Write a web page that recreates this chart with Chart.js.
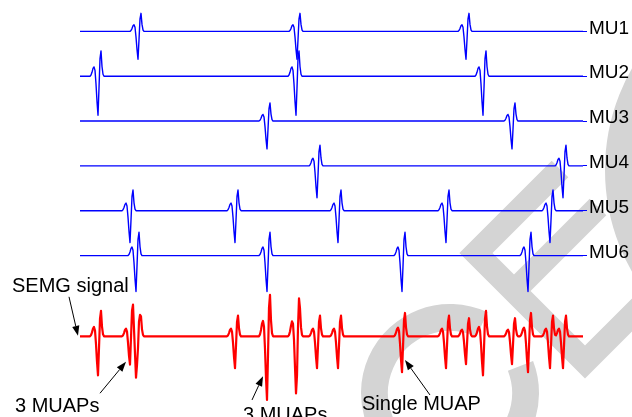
<!DOCTYPE html>
<html>
<head>
<meta charset="utf-8">
<script src="https://cdn.jsdelivr.net/npm/chart.js@4.4.0/dist/chart.umd.min.js"></script>
<style>
  html, body { margin: 0; padding: 0; background: #fff; }
  #wrap { width: 632px; height: 417px; position: relative; }
</style>
</head>
<body>
<div id="wrap"><canvas id="muapChart"></canvas></div>
<script>
// firing instants of each motor unit (sample index of the negative peak)
const mu1Firings = [58, 217, 386];
const mu2Firings = [18, 216, 403];
const mu3Firings = [187, 432];
const mu4Firings = [237, 483];
const mu5Firings = [50, 155, 258, 366, 470];
const mu6Firings = [56, 187, 322, 448];

// negative peak amplitude of each unit's MUAP
const muAmplitudes = [0.62, 0.87, 0.62, 0.71, 0.71, 0.80];

// normalised MUAP waveform, samples -8 .. +6 around the negative peak
const muapShape = [0, 0.03, 0.1, 0.2, 0.24, 0.15, -0.2, -0.65, -1, -0.3, 0.45, 0.65, 0.25, 0.05, 0];
const muapOnset = -8;

const muLabels = ['MU1', 'MU2', 'MU3', 'MU4', 'MU5', 'MU6'];
const muBaselines = [6, 5, 4, 3, 2, 1];
const semgBaseline = -0.8;
const nSamples = 504;

// arrows + captions (data coords)
const notes = [
  { text: 'SEMG signal', at: [-68, 0.19],   from: [-11, 0.08],  to: [-2, -0.79] },
  { text: '3 MUAPs',     at: [-65, -2.49],  from: [20, -2.07],  to: [46, -1.37] },
  { text: '3 MUAPs',     at: [163, -2.69],  from: [172, -2.22], to: [183, -1.69] },
  { text: 'Single MUAP', at: [282, -2.44],  from: [350, -2.11], to: [325, -1.33] }
];

const FONT = '20px "Liberation Sans", Arial, sans-serif';

// spike train of one unit: MUAP placed at every firing
function buildTrain(firings, amp) {
    const train = new Array(nSamples).fill(0);
    firings.forEach(t => {
        muapShape.forEach((v, k) => {
            const i = t + muapOnset + k;
            if (i >= 0 && i < nSamples) train[i] += v * amp;
        });
    });
    return train;
}

const allFirings = [mu1Firings, mu2Firings, mu3Firings, mu4Firings, mu5Firings, mu6Firings];
const trains = allFirings.map((f, i) => buildTrain(f, muAmplitudes[i]));

// surface EMG = sum of all the trains
const semg = new Array(nSamples).fill(0);
trains.forEach(tr => tr.forEach((v, i) => { semg[i] += v; }));

const datasets = trains.map((tr, m) => ({
    label: muLabels[m],
    data: tr.map((v, i) => ({ x: i, y: muBaselines[m] + v })),
    borderColor: '#0000ff',
    borderWidth: 1.4,
    pointRadius: 0,
    tension: 0,
    borderJoinStyle: 'round'
}));
datasets.push({
    label: 'SEMG',
    data: semg.map((v, i) => ({ x: i, y: semgBaseline + v })),
    borderColor: '#ff0000',
    borderWidth: 2.2,
    pointRadius: 0,
    tension: 0,
    borderJoinStyle: 'round'
});

// grey stamp behind everything
function drawWatermark(ctx) {
    const d2r = Math.PI / 180;
    ctx.save();
    ctx.strokeStyle = '#d4d4d4';
    ctx.lineCap = 'butt';
    ctx.lineJoin = 'miter';

    ctx.lineWidth = 27;
    ctx.beginPath();
    ctx.arc(450, 393, 75.5, -21 * d2r, -65 * d2r, false);
    ctx.stroke();

    ctx.lineWidth = 30;
    ctx.beginPath();
    ctx.arc(810, 170, 190, 0, 2 * Math.PI);
    ctx.stroke();

    ctx.lineWidth = 23.5;
    ctx.beginPath();
    ctx.moveTo(560, 169);
    ctx.lineTo(476, 253);
    ctx.lineTo(585, 362);
    ctx.lineTo(680, 267);
    ctx.stroke();
    ctx.beginPath();
    ctx.moveTo(514, 291);
    ctx.lineTo(598, 207);
    ctx.stroke();
    ctx.restore();
}

const watermarkPlugin = {
    id: 'watermark',
    beforeDraw(chart) {
        drawWatermark(chart.ctx);
    }
};

const notesPlugin = {
    id: 'notes',
    afterDraw(chart) {
        const ctx = chart.ctx;
        const xs = chart.scales.x, ys = chart.scales.y;
        const px = p => [xs.getPixelForValue(p[0]), ys.getPixelForValue(p[1])];
        ctx.save();
        ctx.fillStyle = '#000';
        ctx.strokeStyle = '#000';
        ctx.lineWidth = 1;
        ctx.font = FONT;
        ctx.textBaseline = 'alphabetic';
        notes.forEach(n => {
            const [tx, ty] = px(n.at);
            ctx.fillText(n.text, tx, ty);

            const [x0, y0] = px(n.from);
            const [x1, y1] = px(n.to);
            const ang = Math.atan2(y1 - y0, x1 - x0);
            const len = 10, half = 3.6;
            const bx = x1 - len * Math.cos(ang), by = y1 - len * Math.sin(ang);
            ctx.beginPath();
            ctx.moveTo(x0, y0);
            ctx.lineTo(bx, by);
            ctx.stroke();
            ctx.beginPath();
            ctx.moveTo(x1, y1);
            ctx.lineTo(bx + half * Math.sin(ang), by - half * Math.cos(ang));
            ctx.lineTo(bx - half * Math.sin(ang), by + half * Math.cos(ang));
            ctx.closePath();
            ctx.fill();
        });
        ctx.restore();
    }
};

new Chart(document.getElementById('muapChart'), {
    type: 'line',
    data: { datasets: datasets },
    plugins: [watermarkPlugin, notesPlugin],
    options: {
        responsive: true,
        maintainAspectRatio: false,
        animation: false,
        events: [],
        layout: { padding: { left: 80, right: 0, top: 0, bottom: 0 } },
        plugins: {
            legend: { display: false },
            tooltip: { enabled: false }
        },
        scales: {
            x: {
                type: 'linear',
                display: false,
                min: 0,
                max: nSamples - 1
            },
            y: {
                type: 'linear',
                position: 'right',
                min: -2.6,
                max: 6.7,
                afterBuildTicks: scale => {
                    scale.ticks = muBaselines.map(v => ({ value: v }));
                },
                afterFit: scale => {
                    // full-height plot, fixed label column on the right
                    scale.width = 49;
                    scale.paddingTop = 0;
                    scale.paddingBottom = 0;
                },
                border: { display: false },
                grid: {
                    drawOnChartArea: false,
                    tickLength: 4,
                    color: '#0000ff',
                    lineWidth: 1
                },
                ticks: {
                    padding: 2,
                    labelOffset: -3,
                    color: '#000',
                    font: { family: '"Liberation Sans", Arial, sans-serif', size: 19 },
                    callback: value => muLabels[muBaselines.indexOf(value)]
                }
            }
        }
    }
});
</script>
</body>
</html>
